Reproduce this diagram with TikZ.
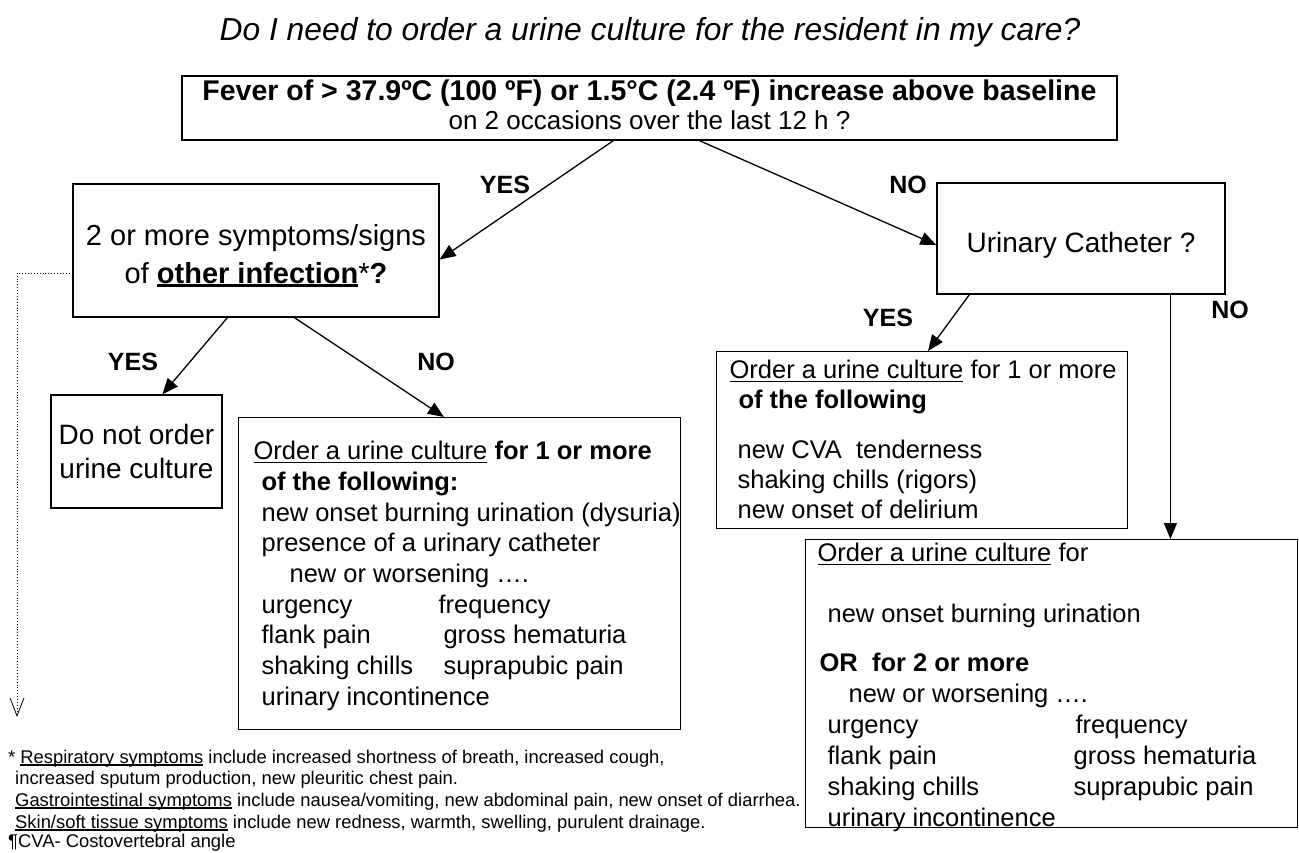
\documentclass[tikz,border=0pt]{standalone}
\usepackage{fontspec}
\setmainfont{Liberation Sans}
\usetikzlibrary{arrows.meta, positioning, calc}

% underline drawn close under the baseline
\newcommand\undl[3]{\setbox0\hbox{#3}\rlap{\rule[-#1]{\wd0}{#2}}\box0\relax}

\begin{document}
\begin{tikzpicture}[
    x=1pt, y=-1pt,
    qbox/.style={draw, line width=1.2pt, inner sep=0pt, align=center},
    panel/.style={draw, line width=1.2pt, inner sep=0pt, anchor=north west},
    lbl/.style={font=\bfseries\fontsize{25}{30}\selectfont},
    arrow/.style={-{Triangle[length=16pt, width=13pt]}, line width=1.3pt},
    dotline/.style={dotted, line width=0.9pt, -{Straight Barb[length=18pt, width=14pt, line width=0.8pt]}}
]
    \useasboundingbox (0,0) rectangle (1299,852);

    % Title
    \node[font=\itshape\fontsize{31.8}{36}\selectfont] (title) at (650,32)
        {Do I need to order a urine culture for the resident in my care?};

    % Questions
    \node[qbox, minimum width=935pt, minimum height=64pt, font=\fontsize{26}{29}\selectfont] (fever) at (649.5,108)
        {{\bfseries\fontsize{28.5}{29}\selectfont Fever of > 37.9ºC (100 ºF) or 1.5°C (2.4 ºF) increase above baseline}\\
         on 2 occasions over the last 12 h ?\rule[-7pt]{0pt}{0pt}};
    \node[qbox, minimum width=366pt, minimum height=133pt, font=\fontsize{29}{38}\selectfont] (infect) at (256,250.5)
        {\rule{0pt}{31pt}2 or more symptoms/signs\\ of \undl{4pt}{2.6pt}{\textbf{other infection}}*\textbf{?}};
    \node[qbox, minimum width=288pt, minimum height=111pt, font=\fontsize{28}{34}\selectfont] (cath) at (1081,238.5)
        {\rule{0pt}{34pt}Urinary Catheter ?};

    % Outcomes
    \node[qbox, minimum width=171pt, minimum height=113pt, font=\fontsize{28}{34}\selectfont] (noorder) at (136.5,451.5)
        {Do not order\\ urine culture};
    \node[panel] (orderA) at (238,417) {\parbox[c][312pt][t]{442pt}{\fontsize{25.5}{30.7}\selectfont\raggedright\leftskip=15pt
        \rule{0pt}{42pt}\undl{3.5pt}{1.5pt}{Order a urine culture} \textbf{for 1 or more}\\
        \hspace*{8pt}\textbf{of the following:}\\
        \hspace*{8pt}new onset burning urination (dysuria)\\
        \hspace*{8pt}presence of a urinary catheter\\
        \hspace*{36pt}new or worsening ….\\
        \hspace*{8pt}\makebox[177pt][l]{urgency}frequency\\
        \hspace*{8pt}\makebox[182pt][l]{flank pain}gross hematuria\\
        \hspace*{8pt}\makebox[182pt][l]{shaking chills}suprapubic pain\\
        \hspace*{8pt}urinary incontinence}};
    \node[panel] (orderB) at (716,351) {\parbox[c][177pt][t]{411pt}{\fontsize{25.5}{30}\selectfont\raggedright\leftskip=13pt
        \rule{0pt}{27pt}\undl{3.5pt}{1.5pt}{Order a urine culture} for 1 or more\\
        \hspace*{9pt}\textbf{of the following}\\[20pt]
        \hspace*{8pt}new CVA\ \ tenderness\\
        \hspace*{8pt}shaking chills (rigors)\\
        \hspace*{8pt}new onset of delirium}};
    \node[panel] (orderC) at (805,539) {\parbox[c][288pt][t]{492pt}{\fontsize{25.5}{31}\selectfont\raggedright\leftskip=12pt
        \rule{0pt}{22pt}\undl{3.5pt}{1.5pt}{Order a urine culture} for\\[30pt]
        \hspace*{10pt}new onset burning urination\\[18pt]
        \hspace*{2pt}\textbf{OR\ \ for 2 or more}\\
        \hspace*{31pt}new or worsening ….\\
        \hspace*{10pt}\makebox[248pt][l]{urgency}frequency\\
        \hspace*{10pt}\makebox[246pt][l]{flank pain}gross hematuria\\
        \hspace*{10pt}\makebox[246pt][l]{shaking chills}suprapubic pain\\
        \hspace*{10pt}urinary incontinence}};

    % Footnotes
    \node[anchor=base west, inner sep=0pt] (notes) at (8,763) {\parbox[t]{900pt}{\fontsize{18.4}{21}\selectfont\raggedright
        *\hspace{5pt}\undl{2.5pt}{1.2pt}{Respiratory symptoms} include increased shortness of breath, increased cough,\\
        \hspace*{7pt}increased sputum production, new pleuritic chest pain.\\[1pt]
        \hspace*{7pt}\undl{2.5pt}{1.2pt}{Gastrointestinal symptoms} include nausea/vomiting, new abdominal pain, new onset of diarrhea.\\[1pt]
        \hspace*{7pt}\undl{2.5pt}{1.2pt}{Skin/soft tissue symptoms} include new redness, warmth, swelling, purulent drainage.\\[-2pt]
        ¶CVA- Costovertebral angle}};

    % Labels
    \node[lbl] (yes1) at (505,185) {YES};
    \node[lbl] (no1) at (908,185) {NO};
    \node[lbl] (yes2) at (133,362) {YES};
    \node[lbl] (no2) at (436,362) {NO};
    \node[lbl] (yes3) at (888,318) {YES};
    \node[lbl] (no3) at (1230,310) {NO};

    % Arrows
    \draw[arrow] ([xshift=432pt]fever.south west) -- ([yshift=-9pt]infect.east);
    \draw[arrow] ([xshift=518pt]fever.south west) -- ([yshift=-6.5pt]cath.west);
    \draw[arrow] ([xshift=155pt]infect.south west) -- ([xshift=112pt]noorder.north west);
    \draw[arrow] ([xshift=222pt]infect.south west) -- ([xshift=206pt]orderA.north west);
    \draw[arrow] ([xshift=33pt]cath.south west) -- ([xshift=212pt]orderB.north west);
    \draw[arrow] ([xshift=234pt]cath.south west) -- ([xshift=234pt]cath.south west |- orderC.north);

    % Dotted lead
    \coordinate (dotend) at (17,717);
    \draw[dotline] ([yshift=-22.5pt]infect.west) -| (dotend);
\end{tikzpicture}
\end{document}
